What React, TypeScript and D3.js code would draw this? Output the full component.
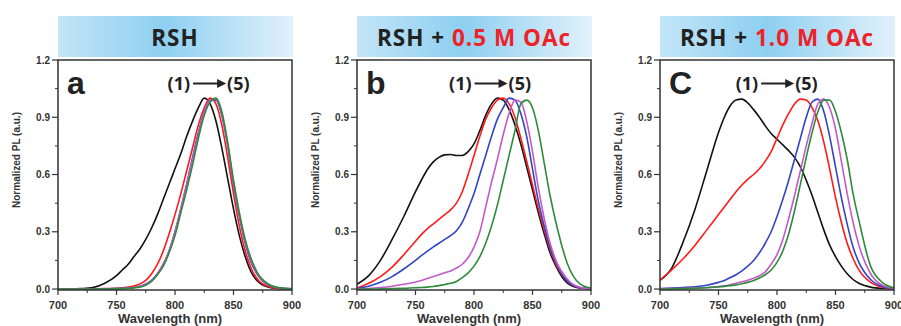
import React from "react";
import * as d3 from "d3";

// wavelength grid (nm) shared by every curve
const wavelengths = [
  700, 710, 720, 730, 740, 750, 755, 760, 765, 770, 775, 780, 785, 790, 795, 800, 805,
  810, 815, 820, 825, 830, 835, 840, 845, 850, 855, 860, 865, 870, 880, 890, 900,
];

// panel a : RSH
const aBlack = [0, 0, 0.002, 0.008, 0.03, 0.07, 0.1, 0.13, 0.17, 0.21, 0.26, 0.32, 0.39, 0.47, 0.55, 0.63, 0.71, 0.8, 0.88, 0.95, 1.0, 0.97, 0.88, 0.74, 0.58, 0.42, 0.28, 0.17, 0.09, 0.045, 0.01, 0.002, 0];
const aRed = [0, 0, 0, 0.001, 0.002, 0.004, 0.006, 0.01, 0.016, 0.027, 0.045, 0.08, 0.13, 0.2, 0.29, 0.39, 0.5, 0.62, 0.74, 0.86, 0.95, 1.0, 0.97, 0.86, 0.69, 0.5, 0.33, 0.2, 0.11, 0.055, 0.012, 0.002, 0];
const aBlue = [0, 0, 0, 0, 0.001, 0.002, 0.003, 0.005, 0.008, 0.014, 0.026, 0.045, 0.08, 0.13, 0.2, 0.3, 0.42, 0.55, 0.69, 0.82, 0.93, 0.99, 0.99, 0.91, 0.75, 0.55, 0.38, 0.24, 0.14, 0.08, 0.02, 0.005, 0.001];
const aMagenta = [0, 0, 0, 0, 0.001, 0.002, 0.003, 0.005, 0.008, 0.014, 0.026, 0.045, 0.08, 0.13, 0.2, 0.3, 0.42, 0.55, 0.68, 0.81, 0.93, 0.99, 0.995, 0.92, 0.76, 0.56, 0.39, 0.25, 0.15, 0.085, 0.022, 0.005, 0.001];
const aGreen = [0, 0, 0, 0, 0.001, 0.002, 0.003, 0.004, 0.006, 0.01, 0.02, 0.04, 0.075, 0.12, 0.19, 0.28, 0.4, 0.52, 0.65, 0.79, 0.91, 0.98, 1.0, 0.93, 0.77, 0.57, 0.4, 0.26, 0.16, 0.09, 0.025, 0.006, 0.001];

// panel b : RSH + 0.5 M OAc
const bBlack = [0.025, 0.07, 0.15, 0.26, 0.38, 0.51, 0.57, 0.625, 0.665, 0.69, 0.703, 0.705, 0.7, 0.7, 0.72, 0.76, 0.83, 0.91, 0.97, 1.0, 0.99, 0.94, 0.86, 0.76, 0.64, 0.52, 0.4, 0.29, 0.19, 0.12, 0.03, 0.006, 0.001];
const bRed = [0.005, 0.03, 0.065, 0.115, 0.18, 0.25, 0.285, 0.315, 0.34, 0.365, 0.39, 0.415, 0.45, 0.51, 0.6, 0.7, 0.8, 0.89, 0.95, 0.99, 1.0, 0.97, 0.9, 0.79, 0.67, 0.545, 0.42, 0.31, 0.21, 0.13, 0.04, 0.008, 0.001];
const bBlue = [0.003, 0.015, 0.035, 0.065, 0.105, 0.15, 0.175, 0.198, 0.22, 0.24, 0.26, 0.28, 0.305, 0.35, 0.42, 0.5, 0.6, 0.7, 0.8, 0.89, 0.95, 1.0, 0.99, 0.92, 0.8, 0.63, 0.46, 0.33, 0.22, 0.14, 0.04, 0.008, 0.001];
const bMagenta = [0.001, 0.003, 0.008, 0.015, 0.025, 0.037, 0.045, 0.055, 0.065, 0.075, 0.085, 0.095, 0.11, 0.13, 0.165, 0.22, 0.3, 0.43, 0.56, 0.68, 0.81, 0.92, 0.99, 0.98, 0.88, 0.72, 0.53, 0.37, 0.24, 0.15, 0.05, 0.01, 0.002];
const bGreen = [0, 0, 0.001, 0.002, 0.004, 0.007, 0.008, 0.01, 0.013, 0.018, 0.024, 0.03, 0.04, 0.06, 0.085, 0.12, 0.17, 0.24, 0.33, 0.44, 0.57, 0.7, 0.83, 0.97, 0.99, 0.95, 0.83, 0.66, 0.49, 0.35, 0.13, 0.03, 0.005];

// panel c : RSH + 1.0 M OAc
const cBlack = [0.045, 0.11, 0.25, 0.42, 0.62, 0.82, 0.9, 0.96, 0.99, 0.995, 0.975, 0.94, 0.9, 0.855, 0.815, 0.785, 0.755, 0.725, 0.69, 0.64, 0.57, 0.49, 0.4, 0.31, 0.23, 0.17, 0.12, 0.08, 0.05, 0.03, 0.01, 0.003, 0.001];
const cRed = [0.047, 0.1, 0.16, 0.23, 0.31, 0.39, 0.43, 0.47, 0.51, 0.545, 0.575, 0.6, 0.63, 0.67, 0.72, 0.79, 0.86, 0.92, 0.97, 0.995, 0.99, 0.95, 0.88, 0.77, 0.63, 0.48, 0.35, 0.24, 0.16, 0.1, 0.035, 0.01, 0.002];
const cBlue = [0.003, 0.005, 0.008, 0.012, 0.02, 0.035, 0.045, 0.06, 0.075, 0.095, 0.12, 0.15, 0.19, 0.24, 0.3, 0.38, 0.47, 0.57, 0.68, 0.79, 0.9, 0.98, 0.995, 0.93, 0.8, 0.64, 0.48, 0.34, 0.22, 0.14, 0.05, 0.014, 0.003];
const cMagenta = [0.001, 0.002, 0.003, 0.005, 0.008, 0.013, 0.017, 0.023, 0.03, 0.038, 0.046, 0.056, 0.07, 0.09, 0.13, 0.18, 0.26, 0.37, 0.49, 0.62, 0.75, 0.87, 0.97, 0.995, 0.95, 0.84, 0.67, 0.5, 0.35, 0.23, 0.08, 0.02, 0.004];
const cGreen = [0, 0.001, 0.002, 0.004, 0.007, 0.011, 0.014, 0.018, 0.022, 0.028, 0.035, 0.045, 0.058, 0.075, 0.1, 0.14, 0.2, 0.29, 0.41, 0.55, 0.69, 0.82, 0.93, 0.99, 0.99, 0.93, 0.82, 0.68, 0.5, 0.36, 0.12, 0.035, 0.006];

const seriesColors = ["#111111", "#ff1a1a", "#3344c4", "#c25ac9", "#2e8b3a"];
const xTicks = [700, 750, 800, 850, 900];
const yTicks = [0.0, 0.3, 0.6, 0.9, 1.2];

const panels = [
  { letter: "a", title: "RSH", salt: "", series: [aBlack, aRed, aBlue, aMagenta, aGreen], left: 58, arrowAt: 830 },
  { letter: "b", title: "RSH + ", salt: "0.5 M OAc", series: [bBlack, bRed, bBlue, bMagenta, bGreen], left: 357, arrowAt: 815 },
  { letter: "C", title: "RSH + ", salt: "1.0 M OAc", series: [cBlack, cRed, cBlue, cMagenta, cGreen], left: 660, arrowAt: 801 },
];

const plotW = 234;
const top = 60;
const bottom = 290;
const axisFont = "'Liberation Sans', Arial, sans-serif";
const headFont = "'Open Sans', 'Noto Sans', sans-serif";

const Panel = ({ p, idx }) => {
  const x = d3.scaleLinear().domain([700, 900]).range([p.left, p.left + plotW]);
  const y = d3.scaleLinear().domain([-0.005, 1.2]).range([bottom, top]);
  const line = d3
    .line()
    .x((d) => x(d[0]))
    .y((d) => y(d[1]))
    .curve(d3.curveMonotoneX);
  const minorX = d3.range(725, 900, 50);
  const minorY = d3.range(0.15, 1.2, 0.3);
  const cx = x(p.arrowAt);
  const gid = `hg${idx}`;

  return (
    <g>
      <defs>
        <linearGradient id={gid} x1="0" x2="1" y1="0" y2="0">
          <stop offset="0" stopColor="#c3e5f7" />
          <stop offset="0.45" stopColor="#8ecff1" />
          <stop offset="1" stopColor="#e1f1fa" />
        </linearGradient>
      </defs>
      <rect x={p.left} y={16} width={plotW + 1} height={41} fill={`url(#${gid})`} />
      <text
        x={p.left + plotW / 2}
        y={46}
        textAnchor="middle"
        fontFamily={headFont}
        fontWeight="bold"
        fontSize={22.5}
        letterSpacing={1}
        fill="#222"
      >
        {p.title}
        {p.salt && <tspan fill="#ee2229">{p.salt}</tspan>}
      </text>

      {p.series.map((vals, i) => (
        <path
          key={i}
          d={line(wavelengths.map((w, k) => [w, vals[k]]))}
          fill="none"
          stroke={seriesColors[i]}
          strokeWidth={1.6}
        />
      ))}

      <rect x={p.left} y={top} width={plotW} height={bottom - top} fill="none" stroke="#333" strokeWidth={1.5} />

      {yTicks.map((t) => (
        <g key={t}>
          <line x1={p.left - 6} x2={p.left} y1={y(t)} y2={y(t)} stroke="#333" strokeWidth={1.2} />
          <text x={p.left - 8} y={y(t) + 3.5} textAnchor="end" fontFamily={axisFont} fontWeight="bold" fontSize={10} fill="#333">
            {t.toFixed(1)}
          </text>
        </g>
      ))}
      {minorY.map((t) => (
        <line key={t} x1={p.left - 3} x2={p.left} y1={y(t)} y2={y(t)} stroke="#333" strokeWidth={1} />
      ))}
      {xTicks.map((t) => (
        <g key={t}>
          <line x1={x(t)} x2={x(t)} y1={bottom} y2={bottom + 5} stroke="#333" strokeWidth={1.2} />
          <text x={x(t)} y={308.5} textAnchor="middle" fontFamily={axisFont} fontWeight="bold" fontSize={11} fill="#333">
            {t}
          </text>
        </g>
      ))}
      {minorX.map((t) => (
        <line key={t} x1={x(t)} x2={x(t)} y1={bottom} y2={bottom + 3} stroke="#333" strokeWidth={1} />
      ))}

      <text x={p.left + plotW / 2 - 5} y={323} textAnchor="middle" fontFamily={axisFont} fontWeight="bold" fontSize={13} fill="#333">
        Wavelength (nm)
      </text>
      <text
        transform={`translate(${p.left - 38},160) rotate(-90)`}
        textAnchor="middle"
        fontFamily={axisFont}
        fontWeight="bold"
        fontSize={10}
        fill="#333"
      >
        Normalized PL (a.u.)
      </text>

      <text x={p.left + 9} y={94} fontFamily={axisFont} fontWeight="bold" fontSize={32} fill="#222">
        {p.letter}
      </text>

      <text x={cx - 20} y={90} textAnchor="end" fontFamily={headFont} fontWeight="bold" fontSize={18} fill="#222">
        (1)
      </text>
      <line x1={cx - 17} x2={cx + 9} y1={83.5} y2={83.5} stroke="#222" strokeWidth={2} />
      <path d={`M${cx + 16},83.5 L${cx + 7},79 L${cx + 7},88 Z`} fill="#222" />
      <text x={cx + 17} y={90} fontFamily={headFont} fontWeight="bold" fontSize={18} fill="#222">
        (5)
      </text>
    </g>
  );
};

export default function App() {
  return (
    <svg width={901} height={326} style={{ position: "absolute", left: 0, top: 0, background: "#fff" }}>
      <rect width={901} height={326} fill="#fff" />
      {panels.map((p, i) => (
        <Panel key={i} p={p} idx={i} />
      ))}
    </svg>
  );
}
